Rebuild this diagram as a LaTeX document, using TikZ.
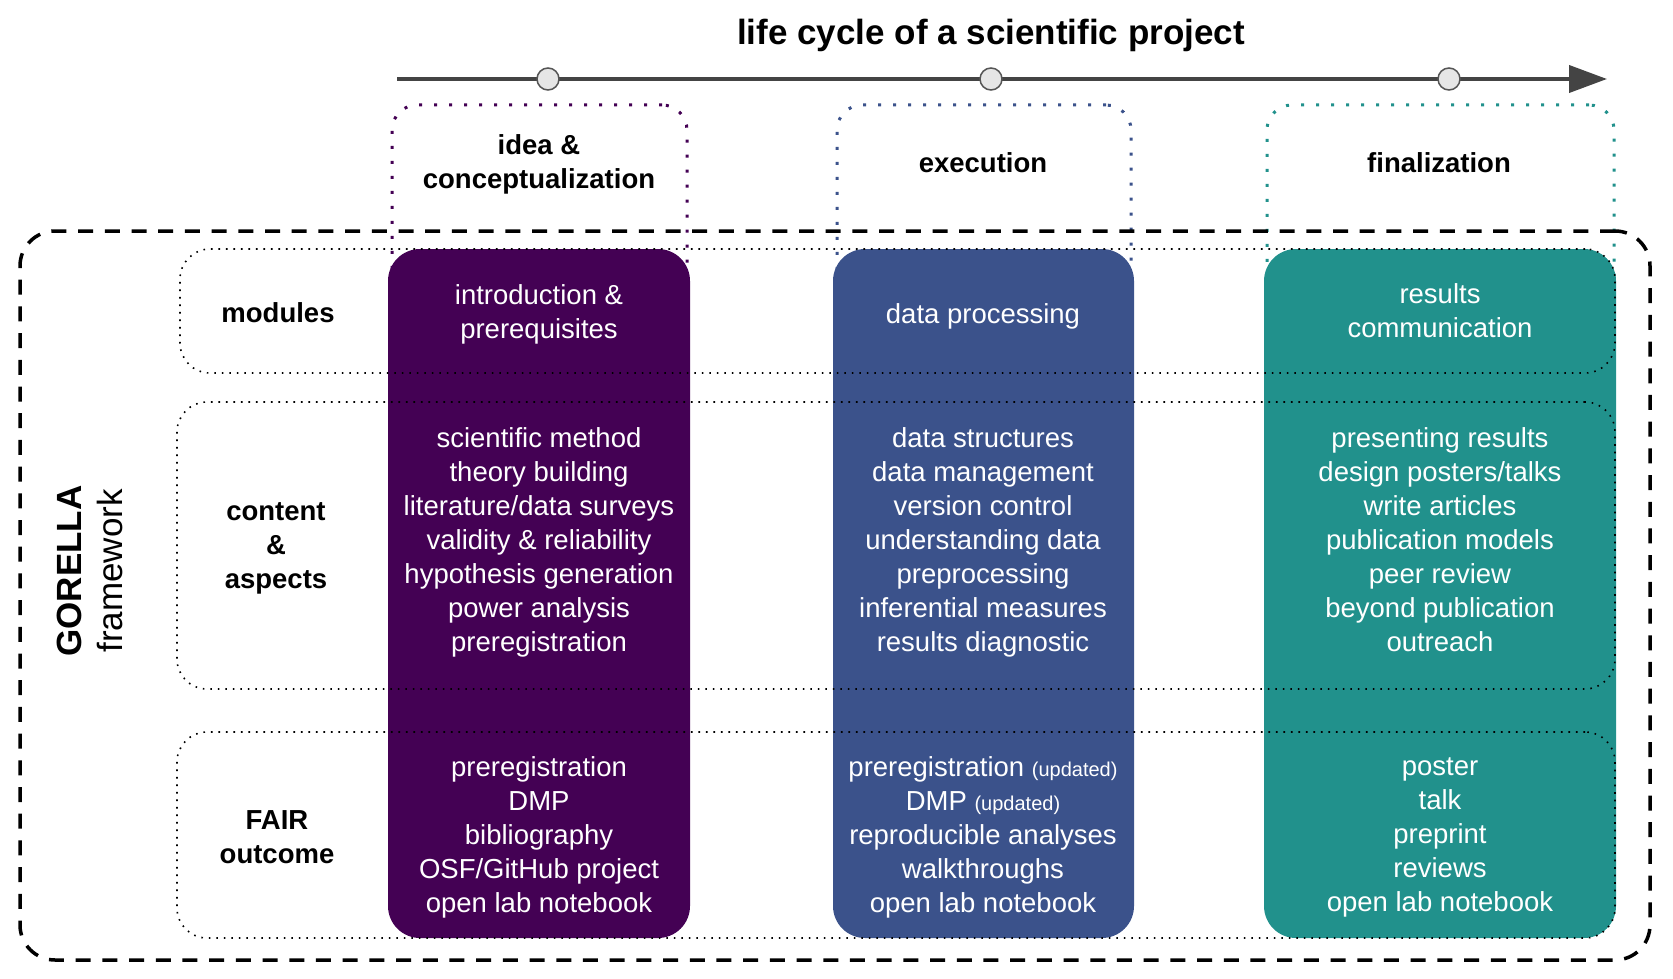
\documentclass[tikz,border=0pt]{standalone}
\usepackage{fontspec}
\setmainfont{Liberation Sans}
\usetikzlibrary{arrows.meta}
\definecolor{vpurple}{HTML}{440154}
\definecolor{vblue}{HTML}{3B528B}
\definecolor{vteal}{HTML}{21918C}
\definecolor{axisgray}{HTML}{444444}
\definecolor{dotfill}{HTML}{E6E6E6}
\definecolor{dotline}{HTML}{555555}
\newcommand{\upd}{{\fontsize{20}{24}\selectfont (updated)}}
\begin{document}
\begin{tikzpicture}[x=1pt,y=-1pt,
  phasebox/.style={draw, line width=3pt, dash pattern=on 3pt off 12pt, rounded corners=25pt, inner sep=0pt},
  colbox/.style={rounded corners=32pt, inner sep=0pt, draw=none},
  rowbox/.style={draw=black, line width=1.6pt, dash pattern=on 1.6pt off 5.9pt, rounded corners=30pt, inner sep=0pt},
  frame/.style={draw=black, line width=3.5pt, dash pattern=on 15pt off 11.7pt, rounded corners=35pt, inner sep=0pt},
  bodytxt/.style={text=white, align=center, font=\fontsize{27.5}{34}\selectfont, inner sep=0pt,
    execute at begin node=\strut, execute at end node=\strut},
  rowlbl/.style={text=black, align=center, font=\fontsize{27.5}{34}\selectfont\bfseries, inner sep=0pt,
    execute at begin node=\strut, execute at end node=\strut},
  stage/.style={circle, draw=dotline, line width=1.5pt, fill=dotfill, minimum size=22pt, inner sep=0pt}
]
\useasboundingbox (0,0) rectangle (1673,979);

% phase boxes (behind)
\node[phasebox, draw=vpurple, minimum width=295pt, minimum height=315pt] (ph1) at (539.5,262.5) {};
\node[phasebox, draw=vblue, minimum width=294pt, minimum height=315pt] (ph2) at (984,262.5) {};
\node[phasebox, draw=vteal, minimum width=347pt, minimum height=315pt] (ph3) at (1440.5,262.5) {};

% framework frame
\node[frame, minimum width=1630pt, minimum height=729pt] (fw) at (835,595.5) {};

% coloured columns
\node[colbox, fill=vpurple, minimum width=302pt, minimum height=689pt] (col1) at (539,593.5) {};
\node[colbox, fill=vblue, minimum width=301pt, minimum height=689pt] (col2) at (983.5,593.5) {};
\node[colbox, fill=vteal, minimum width=352pt, minimum height=689pt] (col3) at (1440,593.5) {};

% row boxes
\node[rowbox, minimum width=1435pt, minimum height=124pt] (rmod) at (897.5,311) {};
\node[rowbox, minimum width=1438pt, minimum height=287pt] (rcon) at (896,545.5) {};
\node[rowbox, minimum width=1438pt, minimum height=206pt] (rfair) at (896,835) {};

% timeline
\coordinate (ax0) at (397,79);
\coordinate (ax1) at (1607,79);
\draw[draw=axisgray, line width=4pt, -{Triangle[length=38pt,width=27pt]}] (ax0) -- (ax1);
\node[stage] (s1) at (548,79) {};
\node[stage] (s2) at (991,79) {};
\node[stage] (s3) at (1449,79) {};
\node[anchor=base, inner sep=0pt, font=\fontsize{35}{40}\selectfont\bfseries] (title) at (991,45) {life cycle of a scientific project};

% phase labels
\node[rowlbl] (l1) at (539,166.5) {idea \&\\conceptualization};
\node[rowlbl] (l2) at (983,166) {execution};
\node[rowlbl] (l3) at (1439,166) {finalization};

% framework label
\node[rotate=90, anchor=base, inner sep=0pt, font=\fontsize{35}{40}\selectfont\bfseries] (gor) at (81,571) {GORELLA};
\node[rotate=90, anchor=base, inner sep=0pt, font=\fontsize{35}{40}\selectfont] (frw) at (122,571) {framework};

% row labels
\node[rowlbl] (rl1) at (278,316) {modules};
\node[rowlbl] (rl2) at (276,551) {content\\\&\\aspects};
\node[rowlbl] (rl3) at (277,842.5) {FAIR\\outcome};

% column texts
\node[bodytxt] (m1) at (539,316.5) {introduction \&\\prerequisites};
\node[bodytxt] (m2) at (983,317) {data processing};
\node[bodytxt] (m3) at (1440,316) {results\\communication};

\node[bodytxt] (c1) at (539,545) {scientific method\\theory building\\literature/data surveys\\validity \& reliability\\hypothesis generation\\power analysis\\preregistration};
\node[bodytxt] (c2) at (983,545) {data structures\\data management\\version control\\understanding data\\preprocessing\\inferential measures\\results diagnostic};
\node[bodytxt] (c3) at (1440,545) {presenting results\\design posters/talks\\write articles\\publication models\\peer review\\beyond publication\\outreach};

\node[bodytxt] (f1) at (539,840) {preregistration\\DMP\\bibliography\\OSF/GitHub project\\open lab notebook};
\node[bodytxt] (f2) at (983,840) {preregistration \upd\\DMP \upd\\reproducible analyses\\walkthroughs\\open lab notebook};
\node[bodytxt] (f3) at (1440,840) {poster\\talk\\preprint\\reviews\\open lab notebook};
\end{tikzpicture}
\end{document}
